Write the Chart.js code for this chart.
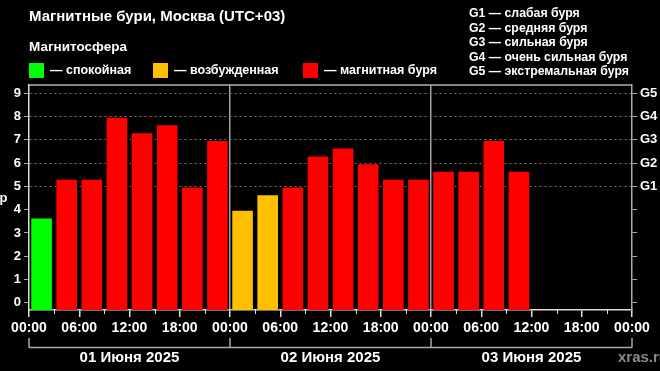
<!DOCTYPE html>
<html>
<head>
<meta charset="utf-8">
<script src="https://cdn.jsdelivr.net/npm/chart.js@4.4.1/dist/chart.umd.min.js"></script>
<style>
    html, body { margin: 0; padding: 0; background: #000; }
    #wrap { width: 660px; height: 371px; }
</style>
</head>
<body>
<div id="wrap"><canvas id="kpChart" width="660" height="371"></canvas></div>
<script>
// Kp index in 3-hour slots, 01-03 June 2025 (Moscow time)
const kpDay1 = [3.67, 5.33, 5.33, 8, 7.33, 7.67, 5, 7];
const kpDay2 = [4, 4.67, 5, 6.33, 6.67, 6, 5.33, 5.33];
const kpDay3 = [5.67, 5.67, 7, 5.67];

const dayLabels = ['01 Июня 2025', '02 Июня 2025', '03 Июня 2025'];
const hourLabels = ['00:00', '06:00', '12:00', '18:00'];
const kpTicks = [0, 1, 2, 3, 4, 5, 6, 7, 8, 9];
const stormLabels = ['G1', 'G2', 'G3', 'G4', 'G5']; // Kp 5..9
const stormLegend = ['G1 — слабая буря', 'G2 — средняя буря', 'G3 — сильная буря',
    'G4 — очень сильная буря', 'G5 — экстремальная буря'];
const stateLegend = ['— спокойная', '— возбужденная', '— магнитная буря'];

const FONT = '"Liberation Sans", Arial, sans-serif';
const GREEN = '#00ff00', ORANGE = '#ffc000', RED = '#ff0000';
const Y_MIN = -0.31, Y_MAX = 9.36;

Chart.defaults.font.family = FONT;
Chart.defaults.color = '#fff';

function kpColor(v) {
    if (v < 4) return GREEN;
    if (v < 5) return ORANGE;
    return RED;
}

// one bar per 3-hour slot, centred in the slot
const kpAll = kpDay1.concat(kpDay2, kpDay3);
const points = kpAll.map((v, i) => ({ x: i * 3 + 1.5, y: v }));

// =====================
// Extra drawing: header, legends, date brackets
// =====================
const decorPlugin = {
    id: 'decor',
    afterDraw(chart) {
        const ctx = chart.ctx;
        const area = chart.chartArea;
        const xs = chart.scales.x;
        ctx.save();

        // top frame line
        ctx.strokeStyle = '#b0b0b0';
        ctx.lineWidth = 1.5;
        ctx.beginPath();
        ctx.moveTo(area.left, area.top);
        ctx.lineTo(area.right, area.top);
        ctx.stroke();

        // minor ticks every 3 hours
        ctx.strokeStyle = '#ddd';
        ctx.lineWidth = 1;
        for (let h = 3; h < 72; h += 6) {
            const px = Math.round(xs.getPixelForValue(h)) + 0.5;
            ctx.beginPath();
            ctx.moveTo(px, area.bottom);
            ctx.lineTo(px, area.bottom + 4);
            ctx.stroke();
        }

        // title
        ctx.fillStyle = '#fff';
        ctx.textBaseline = 'middle';
        ctx.textAlign = 'left';
        ctx.font = 'bold 15px ' + FONT;
        ctx.fillText('Магнитные бури, Москва (UTC+03)', 29, 17);
        ctx.font = 'bold 13.5px ' + FONT;
        ctx.fillText('Магнитосфера', 29, 47);

        // state legend
        const colors = [GREEN, ORANGE, RED];
        const boxX = [29, 153, 303];
        ctx.font = 'bold 12.5px ' + FONT;
        stateLegend.forEach((txt, i) => {
            ctx.fillStyle = colors[i];
            ctx.fillRect(boxX[i], 63, 15, 15);
            ctx.fillStyle = '#fff';
            ctx.fillText(txt, boxX[i] + 21, 70.5);
        });

        // storm level legend
        ctx.font = 'bold 12.3px ' + FONT;
        stormLegend.forEach((txt, i) => {
            ctx.fillText(txt, 469, 14 + i * 14.4);
        });

        // y axis title, partly off the canvas like the original
        ctx.font = 'bold 13px ' + FONT;
        ctx.textBaseline = 'alphabetic';
        ctx.fillText('Kp', -10, 202);

        // day brackets
        ctx.strokeStyle = '#aaa';
        ctx.lineWidth = 1.5;
        const by = 347.5;
        ctx.beginPath();
        ctx.moveTo(xs.getPixelForValue(0), by);
        ctx.lineTo(xs.getPixelForValue(72), by);
        for (let d = 0; d <= 3; d++) {
            const px = xs.getPixelForValue(d * 24);
            ctx.moveTo(px, by);
            ctx.lineTo(px, 338);
        }
        ctx.stroke();

        ctx.font = 'bold 15px ' + FONT;
        ctx.textAlign = 'center';
        ctx.textBaseline = 'middle';
        ctx.fillStyle = '#fff';
        dayLabels.forEach((txt, d) => {
            ctx.fillText(txt, xs.getPixelForValue(d * 24 + 12), 357.5);
        });

        ctx.textAlign = 'left';
        ctx.fillStyle = '#8a8a8a';
        ctx.fillText('xras.ru', 618, 357.5);
        ctx.restore();
    }
};

const ctx = document.getElementById('kpChart');
new Chart(ctx, {
    type: 'bar',
    data: {
        datasets: [{
            data: points,
            backgroundColor: points.map(p => kpColor(p.y)),
            borderColor: 'rgba(0, 0, 0, 0.45)',
            borderWidth: 1,
            base: Y_MIN,
            categoryPercentage: 1,
            barPercentage: 0.9,
            xAxisID: 'x',
            yAxisID: 'y'
        }]
    },
    options: {
        responsive: false,
        animation: false,
        layout: { padding: { top: 85, left: 0, right: 0, bottom: 0 } },
        plugins: {
            legend: { display: false },
            tooltip: { enabled: false }
        },
        scales: {
            x: {
                type: 'linear',
                position: 'bottom',
                min: 0,
                max: 72,
                offset: false,
                afterBuildTicks: s => { s.ticks = [0, 6, 12, 18, 24, 30, 36, 42, 48, 54, 60, 66, 72].map(v => ({ value: v })); },
                afterFit: s => { s.height = 61; },
                ticks: {
                    autoSkip: false,
                    maxRotation: 0,
                    padding: 3,
                    color: '#fff',
                    font: { size: 14, weight: 'bold' },
                    callback: v => hourLabels[(v / 6) % 4]
                },
                grid: {
                    offset: false,
                    drawOnChartArea: true,
                    color: c => (c.tick && (c.tick.value === 24 || c.tick.value === 48)) ? '#a0a0a0' : 'rgba(0,0,0,0)',
                    lineWidth: 1.5,
                    tickColor: '#ddd',
                    tickLength: 7
                },
                border: { color: '#ddd', width: 1.5 }
            },
            y: {
                position: 'left',
                min: Y_MIN,
                max: Y_MAX,
                afterBuildTicks: s => { s.ticks = kpTicks.map(v => ({ value: v })); },
                afterFit: s => { s.width = 29; },
                ticks: {
                    padding: 3,
                    color: '#fff',
                    font: { size: 13, weight: 'bold' },
                    callback: v => String(v)
                },
                grid: {
                    color: c => (c.tick && c.tick.value >= 5) ? '#777' : 'rgba(0,0,0,0)',
                    lineWidth: 1,
                    tickColor: '#aaa',
                    tickLength: 5
                },
                border: { color: '#ddd', width: 1.5, dash: [2, 3] }
            },
            y2: {
                position: 'right',
                min: Y_MIN,
                max: Y_MAX,
                afterBuildTicks: s => { s.ticks = kpTicks.map(v => ({ value: v })); },
                afterFit: s => { s.width = 28; },
                ticks: {
                    padding: 3,
                    color: '#fff',
                    font: { size: 13, weight: 'bold' },
                    callback: v => (v >= 5 ? stormLabels[v - 5] : '')
                },
                grid: {
                    drawOnChartArea: false,
                    tickColor: '#aaa',
                    tickLength: 5
                },
                border: { color: '#aaa', width: 1.5 }
            }
        }
    },
    plugins: [decorPlugin]
});
</script>
</body>
</html>
